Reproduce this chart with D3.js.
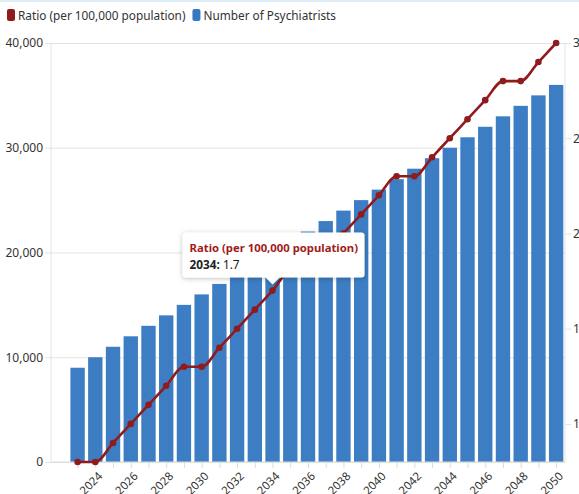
<!DOCTYPE html>
<html>
<head>
<meta charset="utf-8">
<script src="https://cdn.jsdelivr.net/npm/d3@7"></script>
<style>
  html, body { margin: 0; padding: 0; background: #fff; }
  svg { display: block; font-family: "Noto Sans", sans-serif; }
</style>
</head>
<body>
<svg id="chart"></svg>
<script>
let width = 579;
let height = 494;
let margin = {top: 43, right: 14, bottom: 32, left: 51};

// data
let years = [2023, 2024, 2025, 2026, 2027, 2028, 2029, 2030, 2031, 2032, 2033, 2034, 2035, 2036,
             2037, 2038, 2039, 2040, 2041, 2042, 2043, 2044, 2045, 2046, 2047, 2048, 2049, 2050];
let psychiatrists = [9000, 10000, 11000, 12000, 13000, 14000, 15000, 16000, 17000, 18000, 19000, 20000, 21000, 22000,
                     23000, 24000, 25000, 26000, 27000, 28000, 29000, 30000, 31000, 32000, 33000, 34000, 35000, 36000];
let ratio = [0.8, 0.8, 0.9, 1.0, 1.1, 1.2, 1.3, 1.3, 1.4, 1.5, 1.6, 1.7, 1.8, 1.8,
             1.9, 2.0, 2.1, 2.2, 2.3, 2.3, 2.4, 2.5, 2.6, 2.7, 2.8, 2.8, 2.9, 3.0];
let leftTicks = [0, 10000, 20000, 30000, 40000];
let rightTicks = [1, 1.5, 2, 2.5, 3];
let labelYears = [2024, 2026, 2028, 2030, 2032, 2034, 2036, 2038, 2040, 2042, 2044, 2046, 2048, 2050];
let seriesNames = ["Ratio (per 100,000 population)", "Number of Psychiatrists"];
let hoverYear = 2034;

let RED = "#901b1d";
let BLUE = "#3679c1";

let svg = d3.select("#chart")
            .attr("width", width)
            .attr("height", height);

let x0 = margin.left, x1 = width - margin.right;
let y0 = height - margin.bottom, y1 = margin.top;

let x = d3.scaleLinear().domain([2021.5, 2050.5]).range([x0, x1]);
let yL = d3.scaleLinear().domain([0, 40000]).range([y0, y1]);
let yR = d3.scaleLinear().domain([0.8, 3.0]).range([y0, y1]);
let step = x(1) - x(0);
let barW = step * 0.81;

// top strip
svg.append("rect").attr("x", 0).attr("y", 0).attr("width", width).attr("height", 2).attr("fill", "#dcedf7");

// legend
let legend = svg.append("g").attr("transform", "translate(7,9)");
let lx = 0;
[RED, BLUE].forEach(function(c, i) {
    legend.append("rect").attr("x", lx).attr("y", 0).attr("width", 8).attr("height", 12)
        .attr("rx", 2).attr("fill", c);
    let t = legend.append("text").attr("x", lx + 11).attr("y", 10.5)
        .style("font-size", "11.8px").style("fill", "#333").text(seriesNames[i]);
    lx += 11 + t.node().getComputedTextLength() + 7;
});

// grid
let grid = svg.append("g")
    .attr("transform", `translate(${x0},0)`)
    .call(d3.axisLeft(yL).tickValues(leftTicks).tickSize(-(x1 - x0)).tickFormat(""));
grid.select(".domain").remove();
grid.selectAll("line").attr("x1", -6).style("stroke", "#e3e3e3");

// side lines
svg.append("line").attr("x1", x0).attr("x2", x0).attr("y1", y1).attr("y2", y0).style("stroke", "#e3e3e3");
svg.append("line").attr("x1", x1).attr("x2", x1).attr("y1", y1).attr("y2", y0).style("stroke", "#e3e3e3");

// bars
svg.append("g").selectAll("rect")
    .data(years)
    .join("rect")
    .attr("x", (d) => x(d) - barW / 2)
    .attr("width", barW)
    .attr("y", (d, i) => yL(psychiatrists[i]))
    .attr("height", (d, i) => y0 - yL(psychiatrists[i]))
    .attr("fill", BLUE)
    .attr("fill-opacity", 0.97);

// left axis labels
let leftAxis = svg.append("g")
    .attr("transform", `translate(${x0 - 8},0)`)
    .call(d3.axisLeft(yL).tickValues(leftTicks).tickSize(0).tickPadding(0).tickFormat(d3.format(",")));
leftAxis.select(".domain").remove();
leftAxis.selectAll("text").style("font-size", "12px").style("fill", "#333").style("font-family", "Noto Sans");

// right axis
let rightAxis = svg.append("g")
    .attr("transform", `translate(${x1},0)`)
    .call(d3.axisRight(yR).tickValues(rightTicks).tickSize(6).tickPadding(2).tickFormat(d3.format("")));
rightAxis.select(".domain").remove();
rightAxis.selectAll("line").style("stroke", "#e3e3e3");
rightAxis.selectAll("text").style("font-size", "12px").style("fill", "#333").style("font-family", "Noto Sans");

// bottom axis
let bottomAxis = svg.append("g")
    .attr("transform", `translate(0,${y0})`)
    .call(d3.axisBottom(x).tickValues(years).tickSize(6).tickFormat(""));
bottomAxis.select(".domain").attr("d", `M${x0},0H${x1}`).style("stroke", "#dcdcdc");
bottomAxis.selectAll("line").style("stroke", "#dcdcdc");

svg.append("g").selectAll("text")
    .data(labelYears)
    .join("text")
    .attr("transform", (d) => `translate(${x(d) + 5},${y0 + 12}) rotate(-45)`)
    .attr("text-anchor", "end")
    .attr("dy", "0.35em")
    .style("font-size", "11.5px")
    .style("fill", "#333")
    .text((d) => d);

// ratio line
let line = d3.line()
    .x((d) => x(d))
    .y((d, i) => yR(ratio[i]))
    .curve(d3.curveMonotoneX);

svg.append("path")
    .datum(years)
    .attr("d", line)
    .attr("fill", "none")
    .attr("stroke", RED)
    .attr("stroke-width", 2.6);

svg.append("g").selectAll("circle")
    .data(years)
    .join("circle")
    .attr("cx", (d) => x(d))
    .attr("cy", (d, i) => yR(ratio[i]))
    .attr("r", 3.3)
    .attr("fill", RED);

// tooltip
let hi = years.indexOf(hoverYear);
let px = x(hoverYear), py = yR(ratio[hi]);
let defs = svg.append("defs");
let f = defs.append("filter").attr("id", "shadow").attr("x", "-20%").attr("y", "-30%").attr("width", "140%").attr("height", "160%");
f.append("feDropShadow").attr("dx", 0).attr("dy", 1).attr("stdDeviation", 2.5).attr("flood-color", "#000").attr("flood-opacity", 0.25);

let tipW = 182, tipH = 45;
let tx = px - 90, ty = py - 13 - tipH;
let tip = svg.append("g").attr("filter", "url(#shadow)");
tip.append("path")
    .attr("d", `M${tx + 3},${ty} H${tx + tipW - 3} Q${tx + tipW},${ty} ${tx + tipW},${ty + 3} V${ty + tipH - 3} Q${tx + tipW},${ty + tipH} ${tx + tipW - 3},${ty + tipH}
                H${px + 7} L${px},${ty + tipH + 7} L${px - 7},${ty + tipH} H${tx + 3} Q${tx},${ty + tipH} ${tx},${ty + tipH - 3} V${ty + 3} Q${tx},${ty} ${tx + 3},${ty} Z`)
    .attr("fill", "#fff");
svg.append("text")
    .attr("x", tx + 7).attr("y", ty + 19)
    .style("font-size", "11.3px").style("font-weight", "bold").style("fill", "#a01c1c")
    .text(seriesNames[0]);
let t2 = svg.append("text")
    .attr("x", tx + 7).attr("y", ty + 36)
    .style("font-size", "11.8px").style("fill", "#222");
t2.append("tspan").style("font-weight", "bold").text(hoverYear + ":");
t2.append("tspan").text(" " + ratio[hi]);
</script>
</body>
</html>
